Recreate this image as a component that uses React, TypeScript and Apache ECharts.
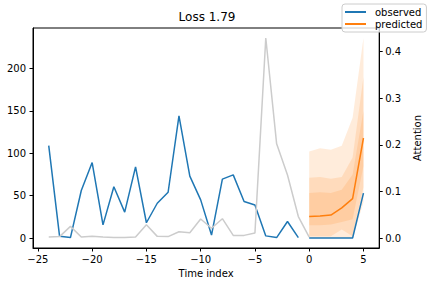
import React, { useEffect, useRef } from "react";
import * as echarts from "echarts";

const timePast = [-24, -23, -22, -21, -20, -19, -18, -17, -16, -15, -14, -13, -12, -11, -10, -9, -8, -7, -6, -5, -4, -3, -2, -1];
const observedPast = [109, 2, 0.5, 56, 89, 15.5, 60.5, 30.5, 84, 18, 41, 54, 144, 73, 45, 3.5, 69.5, 74.5, 43, 39, 2.5, 0.5, 19.5, 0.5];
const timeFuture = [0, 1, 2, 3, 4, 5];
const observedFuture = [0, 0, 0, 0, 0, 53];
const predictedMedian = [25.5, 26, 27, 35.5, 46.5, 118];
const outerLower = [0, 0, 0, 0, 0, 42];
const outerUpper = [102, 106, 104, 109, 142, 236];
const midLower = [2, 2, 2, 10, 2, 60];
const midUpper = [71, 72, 70, 72, 95, 190];
const innerLower = [15, 15, 16, 19, 22, 85];
const innerUpper = [53, 54, 53, 57, 75, 150];
const timeAttention = [-24, -23, -22, -21, -20, -19, -18, -17, -16, -15, -14, -13, -12, -11, -10, -9, -8, -7, -6, -5, -4, -3, -2, -1, 0];
const attention = [0.002, 0.003, 0.025, 0.002, 0.0035, 0.002, 0.001, 0.001, 0.002, 0.0285, 0.0035, 0.003, 0.0135, 0.0114, 0.0407, 0.021, 0.0414, 0.0056, 0.0056, 0.0107, 0.429, 0.202, 0.135, 0.046, 0.002];
const xTicks = [-25, -20, -15, -10, -5, 0, 5];
const yTicks = [0, 50, 100, 150, 200];
const attentionTicks = [0, 0.1, 0.2, 0.3, 0.4];

const FONT = "DejaVu Sans";
const BLUE = "#1f77b4";
const ORANGE = "#ff7f0e";

function band(lower: number[], upper: number[]) {
  return {
    type: "custom",
    silent: true,
    z: 1,
    data: [[timeFuture[0], lower[0]]],
    renderItem: (params: any, api: any) => {
      const pts: number[][] = [];
      timeFuture.forEach((t, i) => pts.push(api.coord([t, upper[i]])));
      for (let i = timeFuture.length - 1; i >= 0; i--) pts.push(api.coord([timeFuture[i], lower[i]]));
      return {
        type: "polygon",
        shape: { points: pts },
        style: { fill: "rgba(255,127,14,0.15)", stroke: "none" },
      };
    },
  };
}

export default function App() {
  const ref = useRef<HTMLDivElement>(null);
  useEffect(() => {
    document.body.style.margin = "0";
    const chart = echarts.init(ref.current!, null, { renderer: "svg" });
    const minus = (v: number) => (v < 0 ? "\u2212" + Math.abs(v) : String(v));
    const axisLine = { show: true, onZero: false, lineStyle: { color: "#000", width: 1 } };
    chart.setOption({
      animation: false,
      textStyle: { fontFamily: FONT },
      title: {
        text: "Loss 1.79",
        left: 207,
        top: 11,
        padding: 0,
        textAlign: "center",
        textStyle: { fontFamily: FONT, fontSize: 12, fontWeight: "normal", color: "#000" },
      },
      legend: {
        data: ["observed", "predicted"],
        orient: "vertical",
        left: 342,
        top: 4,
        padding: [3, 4, 3, 3],
        itemGap: 2,
        itemWidth: 21,
        itemHeight: 2,
        icon: "rect",
        borderColor: "#cccccc",
        borderWidth: 1,
        borderRadius: 3,
        backgroundColor: "rgba(255,255,255,0.8)",
        textStyle: { fontFamily: FONT, fontSize: 10, color: "#000", padding: [0, 0, 0, 4] },
        z: 10,
      },
      grid: { left: 33, right: 49, top: 28, bottom: 38, show: true, borderColor: "#000", borderWidth: 1, backgroundColor: "transparent" },
      xAxis: {
        type: "value",
        min: -25.45,
        max: 6.45,
        name: "Time index",
        nameLocation: "middle",
        nameGap: 19,
        nameTextStyle: { fontFamily: FONT, fontSize: 10, color: "#000" },
        splitLine: { show: false },
        axisLine,
        axisTick: { show: true, length: 3.5, lineStyle: { color: "#000" }, customValues: xTicks },
        axisLabel: { customValues: xTicks, formatter: minus, margin: 6, fontFamily: FONT, fontSize: 10, color: "#000" },
      },
      yAxis: [
        {
          type: "value",
          min: -11.8,
          max: 247.8,
          position: "left",
          splitLine: { show: false },
          axisLine,
          axisTick: { show: true, length: 3.5, lineStyle: { color: "#000" }, customValues: yTicks },
          axisLabel: { customValues: yTicks, margin: 7, fontFamily: FONT, fontSize: 10, color: "#000" },
        },
        {
          type: "value",
          min: -0.02145,
          max: 0.45045,
          position: "right",
          name: "Attention",
          nameLocation: "middle",
          nameRotate: 90,
          nameGap: 23,
          nameTextStyle: { fontFamily: FONT, fontSize: 10, color: "#000" },
          splitLine: { show: false },
          axisLine,
          axisTick: { show: true, length: 3.5, lineStyle: { color: "#000" }, customValues: attentionTicks },
          axisLabel: { customValues: attentionTicks, formatter: (v: number) => v.toFixed(1), margin: 6, fontFamily: FONT, fontSize: 10, color: "#000" },
        },
      ],
      series: [
        band(outerLower, outerUpper),
        band(midLower, midUpper),
        band(innerLower, innerUpper),
        {
          name: "observed",
          type: "line",
          symbol: "none",
          z: 3,
          color: BLUE,
          lineStyle: { width: 1.5, color: BLUE },
          data: timePast.map((t, i) => [t, observedPast[i]]),
        },
        {
          name: "observed",
          type: "line",
          symbol: "none",
          z: 3,
          color: BLUE,
          lineStyle: { width: 1.5, color: BLUE },
          data: timeFuture.map((t, i) => [t, observedFuture[i]]),
        },
        {
          name: "predicted",
          type: "line",
          symbol: "none",
          z: 4,
          color: ORANGE,
          lineStyle: { width: 1.5, color: ORANGE },
          data: timeFuture.map((t, i) => [t, predictedMedian[i]]),
        },
        {
          name: "attention",
          type: "line",
          yAxisIndex: 1,
          symbol: "none",
          z: 5,
          color: "#cccccc",
          lineStyle: { width: 1.5, color: "#cccccc" },
          data: timeAttention.map((t, i) => [t, attention[i]]),
        },
      ],
    });
    return () => chart.dispose();
  }, []);
  return <div ref={ref} style={{ position: "absolute", left: 0, top: 0, width: 430, height: 286 }} />;
}
